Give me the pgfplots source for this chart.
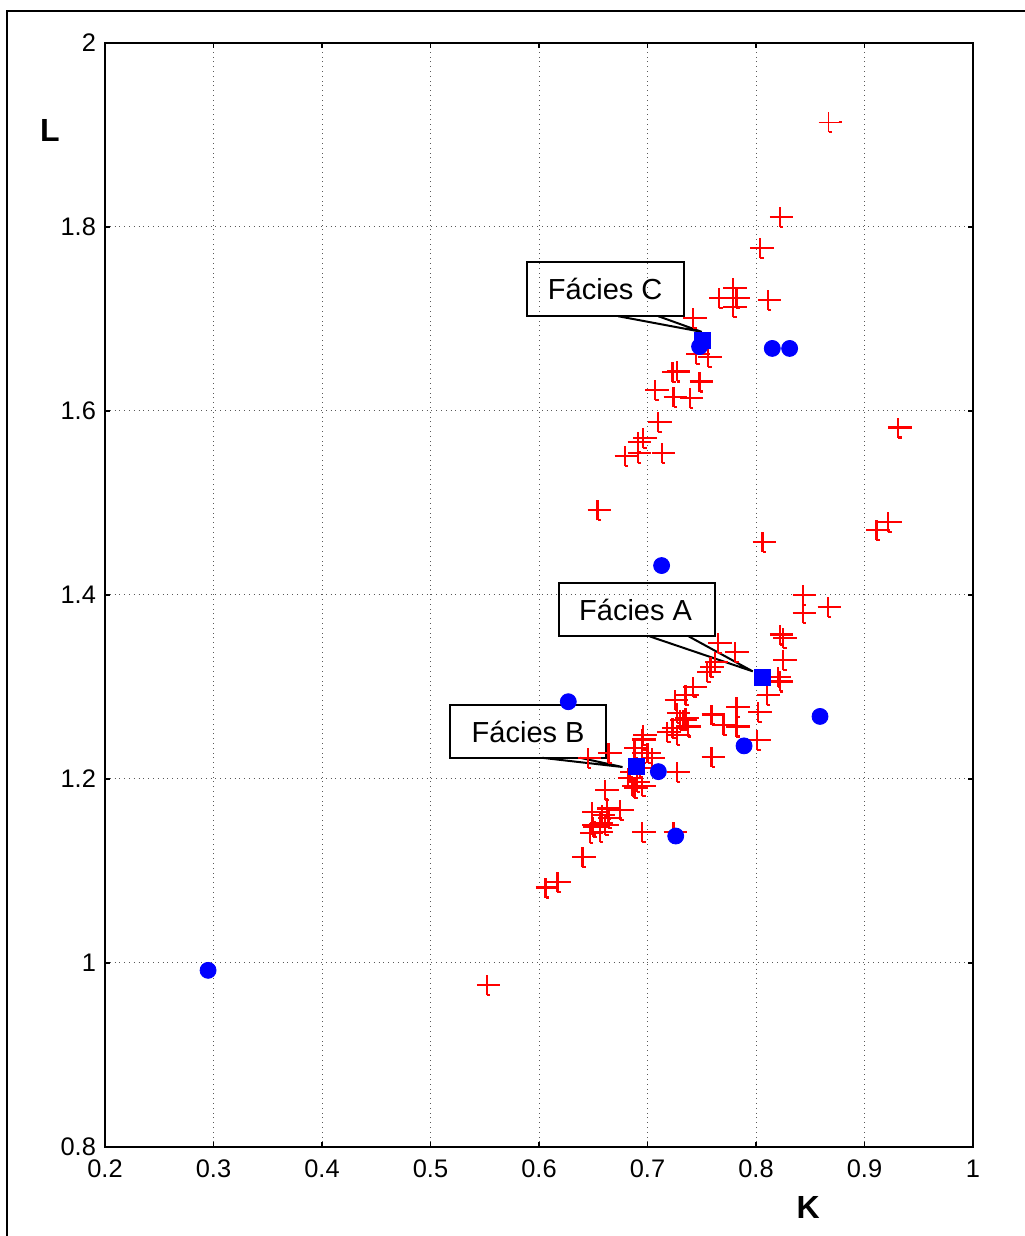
\documentclass[border=0pt]{standalone}
\usepackage{pgfplots}
\pgfplotsset{compat=1.18}
\usepackage{fontspec}
\setmainfont{Liberation Sans}
\definecolor{mred}{RGB}{255,0,0}
\definecolor{mblue}{RGB}{0,0,255}
\pgfdeclareplotmark{mplus}{%
  \pgfpathmoveto{\pgfqpoint{-\pgfplotmarksize}{0pt}}%
  \pgfpathlineto{\pgfqpoint{\pgfplotmarksize}{0pt}}%
  \pgfpathmoveto{\pgfqpoint{0pt}{-\pgfplotmarksize}}%
  \pgfpathlineto{\pgfqpoint{0pt}{\pgfplotmarksize}}%
  \pgfusepathqstroke
  \pgfsetlinewidth{1.1pt}%
  \pgfpathmoveto{\pgfqpoint{\pgfplotmarksize}{0pt}}%
  \pgfpathlineto{\pgfqpoint{1.35\pgfplotmarksize}{0pt}}%
  \pgfpathmoveto{\pgfqpoint{0pt}{-\pgfplotmarksize}}%
  \pgfpathlineto{\pgfqpoint{0.35\pgfplotmarksize}{-\pgfplotmarksize}}%
  \pgfusepathqstroke
}
\begin{document}
\begin{tikzpicture}[x=1pt,y=1pt]
\useasboundingbox (0,0) rectangle (512,618);
\draw[line width=1pt] (3.5,-2) -- (3.5,612.5) -- (514,612.5);
\begin{axis}[
  at={(52.5pt,44.5pt)}, anchor=south west,
  width=434pt, height=552pt, scale only axis,
  xmin=0.2, xmax=1, ymin=0.8, ymax=2,
  xtick={0.2,0.3,0.4,0.5,0.6,0.7,0.8,0.9,1},
  ytick={0.8,1,1.2,1.4,1.6,1.8,2},
  xticklabels={0.2,0.3,0.4,0.5,0.6,0.7,0.8,0.9,1},
  yticklabels={0.8,1,1.2,1.4,1.6,1.8,2},
  grid=major,
  major grid style={dotted, black!65, line width=0.5pt},
  tick align=inside, major tick length=2.5pt,
  axis line style={line width=0.8pt},
  tick style={black, line width=0.6pt},
  ticklabel style={font=\fontsize{12.7}{14}\selectfont},
  xticklabel style={yshift=-3pt},
  yticklabel style={xshift=-1pt},
  /pgf/number format/assume math mode=true,
  clip=false,
]
\addplot[only marks, mark=mplus, mark size=5pt, color=mred, line width=0.5pt] coordinates {
(0.867,1.914) (0.822,1.811) (0.804,1.777) (0.779,1.734) (0.766,1.723) (0.782,1.723)
(0.779,1.713) (0.811,1.721) (0.742,1.701) (0.756,1.659) (0.723,1.642) (0.727,1.643)
(0.748,1.632) (0.707,1.623) (0.724,1.615) (0.739,1.614) (0.710,1.588) (0.696,1.571)
(0.691,1.566) (0.679,1.551) (0.691,1.554) (0.713,1.554) (0.654,1.492) (0.931,1.582)
(0.922,1.479) (0.911,1.471) (0.806,1.458) (0.745,1.662)
(0.843,1.400) (0.866,1.387) (0.843,1.380) (0.822,1.357) (0.825,1.353) (0.825,1.329)
(0.820,1.311) (0.822,1.306) (0.810,1.291) (0.802,1.273) (0.782,1.278) (0.801,1.242)
(0.759,1.270) (0.770,1.259) (0.782,1.257) (0.759,1.224) (0.765,1.348) (0.781,1.338)
(0.762,1.327) (0.758,1.322) (0.755,1.316) (0.742,1.300) (0.735,1.291) (0.725,1.286)
(0.730,1.264) (0.735,1.266) (0.723,1.255) (0.718,1.251) (0.727,1.248) (0.737,1.257)
(0.727,1.272) (0.733,1.264) (0.696,1.248) (0.695,1.243) (0.688,1.234) (0.700,1.228)
(0.695,1.228) (0.704,1.223) (0.645,1.223) (0.664,1.228) (0.727,1.208) (0.682,1.201)
(0.690,1.197) (0.686,1.192) (0.688,1.190) (0.695,1.192) (0.661,1.188) (0.675,1.166)
(0.663,1.168) (0.649,1.164) (0.658,1.161) (0.664,1.158) (0.649,1.150) (0.650,1.148)
(0.656,1.152) (0.661,1.150) (0.647,1.141) (0.656,1.142) (0.695,1.142) (0.724,1.142)
(0.640,1.115) (0.617,1.088) (0.606,1.082) (0.684,1.208) (0.693,1.212) (0.552,0.976)
};
\addplot[only marks, mark=*, mark size=4pt, color=mblue, mark options={fill=mblue}] coordinates {
(0.295,0.992) (0.627,1.284) (0.713,1.432) (0.748,1.670) (0.815,1.668) (0.831,1.668)
(0.710,1.208) (0.726,1.138) (0.789,1.236) (0.859,1.268)
};
\addplot[only marks, mark=square*, mark size=4pt, color=mblue, mark options={fill=mblue}] coordinates {
(0.751,1.677) (0.806,1.310) (0.690,1.214)
};
% callouts
\draw[line width=1pt] (axis cs:0.589,1.762) rectangle (axis cs:0.734,1.703);
\draw[line width=1pt] (axis cs:0.673,1.703) -- (axis cs:0.750,1.686) -- (axis cs:0.710,1.703);
\node[font=\fontsize{14.5}{16}\selectfont] at (axis cs:0.661,1.733) {Fácies C};
\draw[line width=1pt] (axis cs:0.618,1.413) rectangle (axis cs:0.762,1.355);
\draw[line width=1pt] (axis cs:0.702,1.355) -- (axis cs:0.797,1.317) -- (axis cs:0.738,1.355);
\node[font=\fontsize{14.5}{16}\selectfont] at (axis cs:0.689,1.384) {Fácies A};
\draw[line width=1pt] (axis cs:0.518,1.280) rectangle (axis cs:0.662,1.223);
\draw[line width=1pt] (axis cs:0.603,1.223) -- (axis cs:0.677,1.213) -- (axis cs:0.638,1.223);
\node[font=\fontsize{14.5}{16}\selectfont] at (axis cs:0.590,1.251) {Fácies B};
% axis labels
\node[font=\bfseries\fontsize{16}{18}\selectfont] at (rel axis cs:0.81,0) [yshift=-30pt] {K};
\node[font=\bfseries\fontsize{16}{18}\selectfont] at (rel axis cs:0,0.921) [xshift=-27.5pt] {L};
\end{axis}
\end{tikzpicture}
\end{document}
